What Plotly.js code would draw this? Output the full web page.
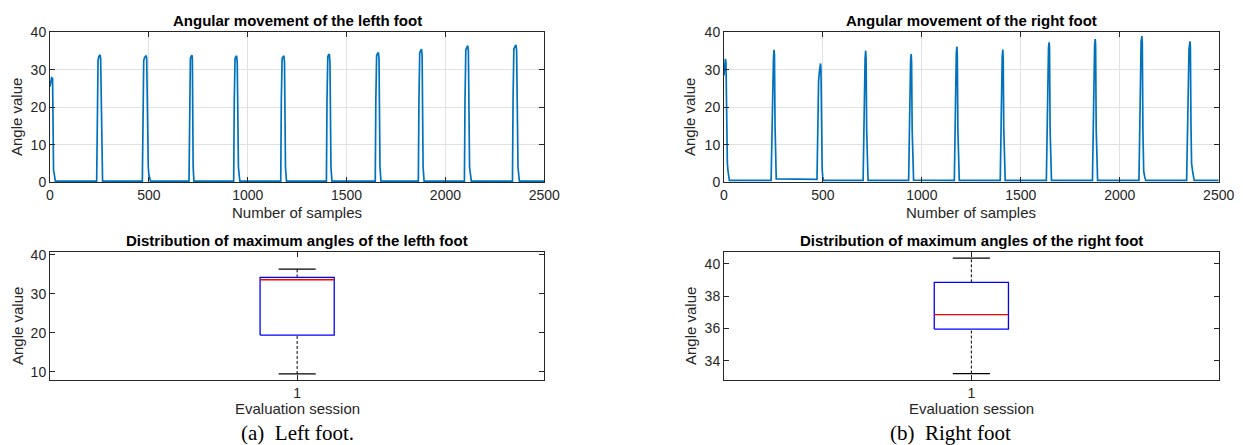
<!DOCTYPE html>
<html><head><meta charset="utf-8">
<script src="https://cdn.plot.ly/plotly-3.0.1.min.js"></script>
<style>html,body{margin:0;padding:0;background:#fff;}#chart{width:1243px;height:445px;}</style>
</head><body><div id="chart"></div>
<script>
// ---- data ----
const leftSamples = [0,4,8,13,15,18,21,24,27,
  236,239,243,247,253,256,259,263,266,
  467,470,474,479,486,489,492,497,500,508,
  703,706,710,714,718,720,721,724,728,
  929,932,936,940,944,947,950,953,960,
  1167,1170,1174,1179,1183,1186,1188,1191,1196,
  1398,1401,1405,1409,1413,1416,1418,1421,1426,
  1645,1648,1652,1657,1661,1664,1666,1669,1674,
  1863,1866,1870,1875,1879,1882,1884,1887,1892,
  2096,2099,2103,2108,2113,2116,2118,2122,2131,
  2339,2342,2346,2351,2357,2360,2363,2367,2374,
  2500];
const leftAngles = [25.5,27.5,27.9,27.7,15,3.2,2.4,1.0,0.3,
  0.3,20,32.5,33.5,34.0,33.2,18,3,0.3,
  0.3,20,32.5,33.3,33.8,33,16,4,2,0.3,
  0.3,22,33.0,33.6,33.9,33,12.6,4,0.3,
  0.3,22,33.0,33.5,33.7,32,9.5,4,0.3,
  0.3,22,33.0,33.5,33.7,32,13.8,4,0.3,
  0.3,22,33.5,34.0,34.2,32,17.5,4,0.3,
  0.3,22,33.8,34.4,34.6,33,20,4,0.3,
  0.3,22,34.5,35.2,35.5,34,18,4,0.3,
  0.3,22,35.3,36.0,36.4,35,18,4,0.3,
  0.3,22,35.5,36.2,36.6,35,18,4,0.3,
  0.3];
const rightSamples = [0,3,7,10,13,17,20,23,27,
  238,242,246,250,253,255,258,261,264,
  470,474,478,483,488,490,493,496,499,503,
  703,707,710,713,716,718,721,724,728,
  933,937,940,943,946,948,951,954,958,
  1164,1168,1171,1174,1177,1179,1182,1185,1189,
  1396,1400,1403,1406,1409,1411,1414,1417,1421,
  1629,1633,1636,1640,1643,1645,1648,1651,1655,
  1862,1866,1869,1873,1876,1878,1881,1884,1888,
  2097,2101,2104,2108,2112,2114,2117,2121,2126,2131,
  2338,2342,2345,2350,2355,2357,2360,2363,2368,2376,
  2500];
const rightAngles = [28.5,31,32.9,32,9.5,5,3.2,1.5,0.5,
  0.5,12,27,33,35.3,34,15,2,0.9,
  0.8,15,27,30,31.7,30,12,3.5,1.5,0.5,
  0.5,15,28,33,35.1,33,14,2,0.5,
  0.5,15,28,32.5,34.2,32,14,2,0.6,
  0.5,15,29,34.5,36.2,34,14,2,0.5,
  0.5,15,28,33.5,35.4,33,14,2,0.5,
  0.5,15,30,36,37.3,36,14,2,0.5,
  0.5,15,30,36.8,38.2,36.5,14,2,0.5,
  0.5,15,30,37.5,39.0,37,14,3,1.5,0.5,
  0.5,15,28,35.5,37.6,36,15,5,3,0.5,
  0.5];
const sessions = [1];
// [lower whisker, Q1, median, Q3, upper whisker]
const leftMaxStats  = [9.4, 19.4, 33.6, 34.2, 36.3];
const rightMaxStats = [33.2, 35.95, 36.85, 38.85, 40.35];
const sampleTicks = [0,500,1000,1500,2000,2500];
const angleTicks = [0,10,20,30,40];
const leftBoxTicks = [10,20,30,40];
const rightBoxTicks = [34,36,38,40];

// ---- layout helpers ----
const W = 1243, H = 445;
const px = v => v / W, py = v => 1 - v / H;
const AX = '#262626';
const tickFont = {family:'Liberation Sans, Arial, sans-serif', size:14, color:AX};
function axis(extra){
  return Object.assign({showline:true, linecolor:AX, linewidth:1, mirror:'ticks',
    ticks:'inside', ticklen:5, tickcolor:AX, tickwidth:1, zeroline:false,
    tickfont:tickFont, fixedrange:true, showgrid:false}, extra);
}
const lDom = [px(50), px(544.3)], rDom = [px(724), px(1218.7)];
const tDom = [py(182.3), py(32.3)], bDom = [py(380), py(251.5)];

const boxHalf = 0.075, capHalf = 0.0375;
function boxTraces(stats, xa, ya){
  const c = sessions[0];
  const [lo, q1, med, q3, hi] = stats;
  const base = {type:'scatter', mode:'lines', xaxis:xa, yaxis:ya, hoverinfo:'skip', showlegend:false};
  return [
    Object.assign({}, base, {x:[c,c], y:[q3,hi], line:{color:'#000', width:1, dash:'3px,2px'}}),
    Object.assign({}, base, {x:[c,c], y:[lo,q1], line:{color:'#000', width:1, dash:'3px,2px'}}),
    Object.assign({}, base, {x:[c-capHalf,c+capHalf], y:[hi,hi], line:{color:'#000', width:1.2}}),
    Object.assign({}, base, {x:[c-capHalf,c+capHalf], y:[lo,lo], line:{color:'#000', width:1.2}}),
    Object.assign({}, base, {x:[c-boxHalf,c+boxHalf,c+boxHalf,c-boxHalf,c-boxHalf], y:[q1,q1,q3,q3,q1], line:{color:'#0000FF', width:1.3}}),
    Object.assign({}, base, {x:[c-boxHalf,c+boxHalf], y:[med,med], line:{color:'#FF0000', width:1.3}})
  ];
}

const data = [
  {type:'scatter', mode:'lines', x:leftSamples, y:leftAngles, xaxis:'x', yaxis:'y',
   line:{color:'#0072BD', width:1.7}, showlegend:false},
  {type:'scatter', mode:'lines', x:rightSamples, y:rightAngles, xaxis:'x2', yaxis:'y2',
   line:{color:'#0072BD', width:1.7}, showlegend:false},
  ...boxTraces(leftMaxStats, 'x3', 'y3'),
  ...boxTraces(rightMaxStats, 'x4', 'y4')
];

const grid = {showgrid:true, gridcolor:'#e1e1e1', gridwidth:1};
const layout = {
  width:W, height:H, margin:{l:0,r:0,t:0,b:0}, showlegend:false,
  paper_bgcolor:'#fff', plot_bgcolor:'#fff',
  xaxis: axis(Object.assign({domain:lDom, anchor:'y', range:[0,2500], tickvals:sampleTicks}, grid)),
  yaxis: axis(Object.assign({domain:tDom, anchor:'x', range:[0,40], tickvals:angleTicks}, grid)),
  xaxis2: axis(Object.assign({domain:rDom, anchor:'y2', range:[0,2500], tickvals:sampleTicks}, grid)),
  yaxis2: axis(Object.assign({domain:tDom, anchor:'x2', range:[0,40], tickvals:angleTicks}, grid)),
  xaxis3: axis({domain:lDom, anchor:'y3', range:[0.5,1.5], tickvals:sessions}),
  yaxis3: axis({domain:bDom, anchor:'x3', range:[7.85,40.85], tickvals:leftBoxTicks}),
  xaxis4: axis({domain:rDom, anchor:'y4', range:[0.5,1.5], tickvals:sessions}),
  yaxis4: axis({domain:bDom, anchor:'x4', range:[32.8,40.76], tickvals:rightBoxTicks}),
  annotations: []
};
const sans = 'Liberation Sans, Arial, sans-serif';
function ann(text, x, y, size, opts){
  layout.annotations.push(Object.assign({text:text, xref:'paper', yref:'paper', x:px(x), y:py(y),
    xanchor:'center', yanchor:'middle', showarrow:false,
    font:{family:sans, size:size, color:AX}}, opts||{}));
}
const lc = 297.2, rc = 971.4;
ann('<b>Angular movement of the lefth foot</b>', lc, 20.5, 15, {font:{family:sans,size:15,color:'#000'}});
ann('<b>Angular movement of the right foot</b>', rc, 20.5, 15, {font:{family:sans,size:15,color:'#000'}});
ann('<b>Distribution of maximum angles of the lefth foot</b>', lc, 240, 15, {font:{family:sans,size:15,color:'#000'}});
ann('<b>Distribution of maximum angles of the right foot</b>', rc, 240, 15, {font:{family:sans,size:15,color:'#000'}});
ann('Number of samples', lc, 212, 15);
ann('Number of samples', rc, 212, 15);
ann('Evaluation session', lc, 408.5, 15);
ann('Evaluation session', rc, 408.5, 15);
ann('Angle value', 17, 117, 15, {textangle:-90});
ann('Angle value', 690, 117, 15, {textangle:-90});
ann('Angle value', 17, 326, 15, {textangle:-90});
ann('Angle value', 690, 326, 15, {textangle:-90});
ann('(a)  Left foot.', 297, 433, 21, {font:{family:'Liberation Serif, Times New Roman, serif', size:21, color:'#000'}});
ann('(b)  Right foot', 950, 433, 21, {font:{family:'Liberation Serif, Times New Roman, serif', size:21, color:'#000'}});

Plotly.newPlot('chart', data, layout, {staticPlot:true, displayModeBar:false});
</script>
</body></html>
